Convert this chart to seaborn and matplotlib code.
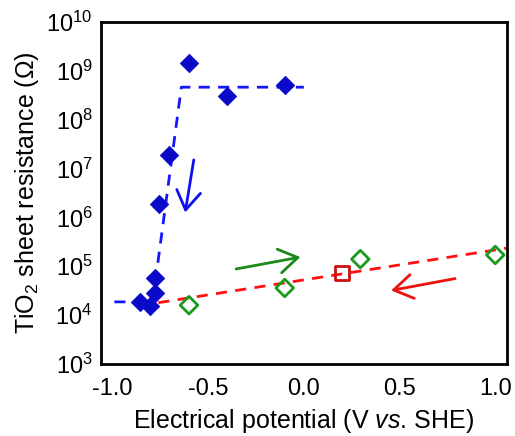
import numpy as np
import pandas as pd
import matplotlib
matplotlib.use("Agg")
import matplotlib.pyplot as plt
import seaborn as sns

# dados
pot_azul = [-0.60, -0.40, -0.10, -0.705, -0.755, -0.775, -0.78, -0.855, -0.805]
res_azul = [1.45e9, 3.1e8, 5.0e8, 1.9e7, 1.9e6, 5.7e4, 2.9e4, 1.9e4, 1.55e4]

pot_verde = [-0.60, -0.10, 0.295, 1.0]
res_verde = [1.6e4, 3.6e4, 1.4e5, 1.7e5]

pot_vermelho = [0.20]
res_vermelho = [7.3e4]

# linhas tracejadas (guias)
lin_azul_x = [-0.99, -0.79, -0.64, 0.0]
lin_azul_y = [1.87e4, 1.87e4, 4.6e8, 4.6e8]
lin_verm_x = [-0.76, 1.06]
lin_verm_y = [1.8e4, 2.35e5]

# setas (inicio, fim)
setas = [
    ((-0.575, 1.5e7), (-0.62, 1.26e6), "#1010ee"),
    ((-0.354, 8.8e4), (-0.018, 1.54e5), "#1a8a1a"),
    ((0.79, 5.6e4), (0.456, 3.2e4), "#ee1111"),
]

sns.set_style("white")
plt.rcParams['font.family'] = ['Liberation Sans', 'DejaVu Sans']
plt.rcParams['mathtext.fontset'] = 'custom'
plt.rcParams['mathtext.rm'] = 'Liberation Sans'
plt.rcParams['mathtext.it'] = 'Liberation Sans:italic'
plt.rcParams['text.color'] = 'black'
plt.rcParams['axes.labelcolor'] = 'black'

fig = plt.figure(figsize=(5.15, 4.36), dpi=100)
ax = fig.add_axes([0.196, 0.165, 0.788, 0.785])

sns.lineplot(x=lin_azul_x, y=lin_azul_y, ax=ax, color="#1515ff", lw=2,
             linestyle=(0, (4, 3)), sort=False, estimator=None)
sns.lineplot(x=lin_verm_x, y=lin_verm_y, ax=ax, color="#ff1010", lw=2,
             linestyle=(0, (4, 3)), sort=False, estimator=None)

sns.scatterplot(x=pot_azul, y=res_azul, ax=ax, marker="D", s=85,
                color="#0a0ac8", edgecolor="#0a0ac8", zorder=3)
sns.scatterplot(x=pot_verde, y=res_verde, ax=ax, marker="D", s=80,
                facecolor="none", edgecolor="#1a9a1a", linewidth=2, zorder=3)
sns.scatterplot(x=pot_vermelho, y=res_vermelho, ax=ax, marker="s", s=110,
                facecolor="none", edgecolor="#cc1010", linewidth=2, zorder=3)

for ini, fim, cor in setas:
    ax.annotate("", xy=fim, xytext=ini,
                arrowprops=dict(arrowstyle="->,head_length=0.5,head_width=0.32",
                                color=cor, lw=2,
                                mutation_scale=27, shrinkA=0, shrinkB=0))

ax.set_yscale("log")
ax.set_ylim(1e3, 1e10)
ax.set_xlim(-1.06, 1.06)
ax.set_xticks([-1.0, -0.5, 0.0, 0.5, 1.0])
ax.set_xticklabels(["-1.0", "-0.5", "0.0", "0.5", "1.0"])
ax.set_yticks([10.0**k for k in range(3, 11)])
ax.set_yticklabels([r"$\mathregular{10^{%d}}$" % k for k in range(3, 11)])
ax.minorticks_off()
ax.tick_params(axis="both", direction="in", width=2, labelsize=17,
               colors="black", labelcolor="black")
ax.tick_params(axis="y", length=8, pad=6)
ax.tick_params(axis="x", length=6, pad=10)
for sp in ax.spines.values():
    sp.set_linewidth(2)
    sp.set_color("black")

ax.set_xlabel(r"Electrical potential (V $\mathit{vs}$. SHE)", fontsize=18,
              labelpad=5, color="black")
ax.set_ylabel(r"TiO$_\mathregular{2}$ sheet resistance ($\mathregular{\Omega}$)",
              fontsize=18, labelpad=4, color="black")

fig.savefig("out.png", dpi=100)
